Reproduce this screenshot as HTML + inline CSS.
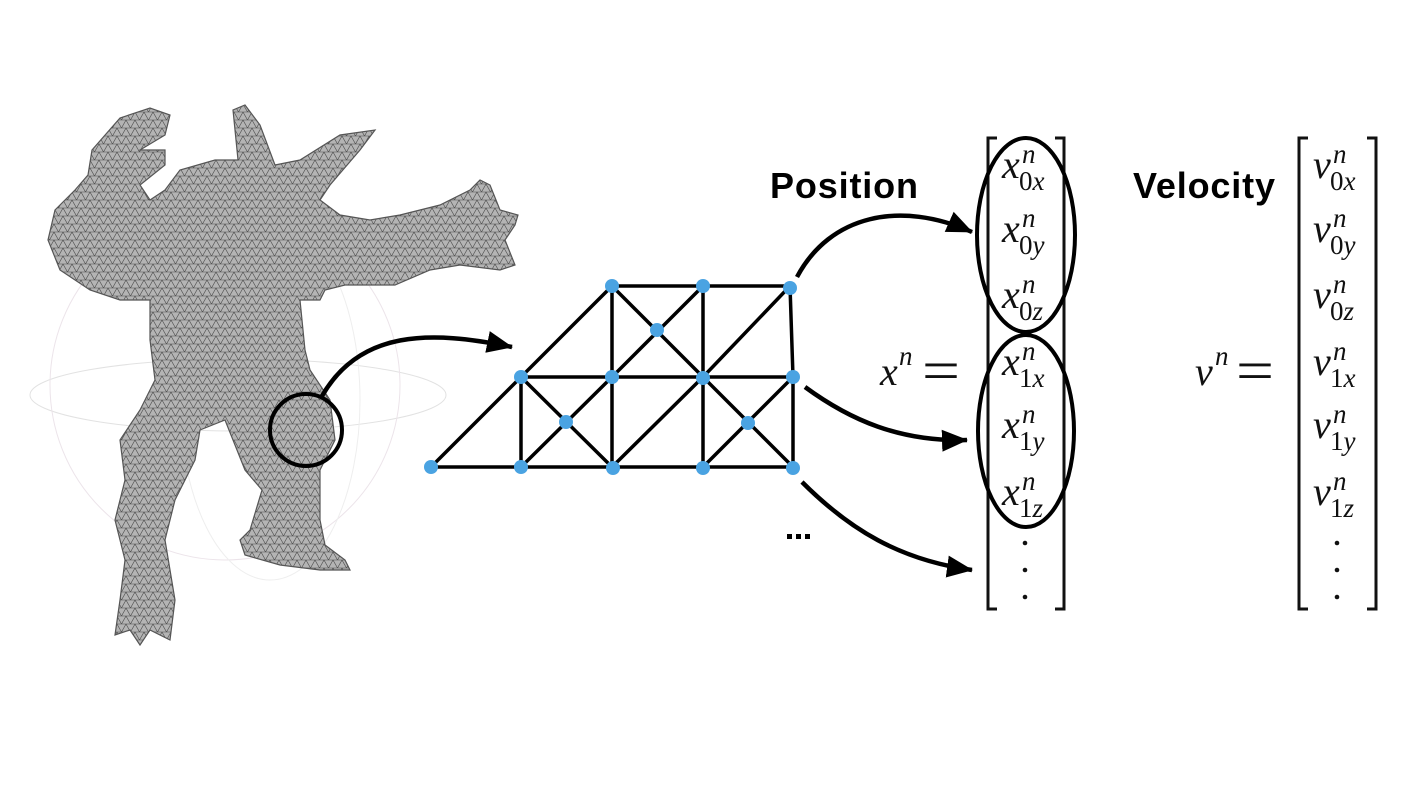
<!DOCTYPE html>
<html><head><meta charset="utf-8"><style>
html,body{margin:0;padding:0;background:#fff;}
svg{display:block;}
.m{font-family:"Liberation Serif",serif;font-style:italic;fill:#111;}
.up{font-family:"Liberation Serif",serif;fill:#111;}
.lbl{font-family:"Liberation Sans",sans-serif;font-weight:bold;font-size:36px;fill:#000;}
</style></head><body>
<svg width="1410" height="808" viewBox="0 0 1410 808">
<defs>
<pattern id="mesh" width="9" height="8" patternUnits="userSpaceOnUse">
<rect width="9" height="8" fill="#b4b4b4"/>
<path d="M0 0 L9 0 L4.5 8 Z M0 8 L9 8" stroke="#4a4a4a" stroke-width="0.6" fill="none"/>
</pattern>
<marker id="ah" markerWidth="28" markerHeight="26" refX="25" refY="13" orient="auto" markerUnits="userSpaceOnUse">
<path d="M0 2 L26 13 L0 24 Z" fill="#000"/>
</marker>
</defs>

<g>
<ellipse cx="238" cy="395" rx="208" ry="36" fill="none" stroke="#e2e2e2" stroke-width="1"/>
<circle cx="225" cy="385" r="175" fill="none" stroke="#ece4ea" stroke-width="1"/>
<ellipse cx="270" cy="400" rx="90" ry="180" fill="none" stroke="#eee" stroke-width="1"/>
<path d="M92 150 L120 118 L150 108 L170 115 L165 135 L140 150 L165 150 L165 165 L140 185 L150 200 L165 190 L180 170 L215 160 L238 160 L233 110 L245 105 L260 125 L275 165 L300 160 L340 135 L375 130 L360 150 L330 185 L320 200 L340 215 L370 220 L400 215 L440 205 L470 190 L480 180 L490 185 L500 210 L518 215 L515 225 L505 240 L515 265 L500 270 L460 265 L430 270 L395 285 L345 285 L325 290 L320 300 L300 300 L305 350 L310 370 L330 400 L335 440 L320 470 L320 520 L325 545 L345 560 L350 570 L320 570 L280 565 L245 555 L240 540 L250 530 L262 490 L245 470 L225 420 L200 430 L195 460 L175 500 L165 540 L170 570 L175 600 L170 640 L150 630 L140 645 L130 630 L115 635 L120 600 L125 560 L115 520 L125 480 L120 440 L140 410 L155 380 L150 340 L150 300 L120 300 L90 290 L60 270 L48 240 L55 210 L75 190 L88 175 Z" fill="url(#mesh)" stroke="#555" stroke-width="1.2"/>
</g>

<circle cx="306" cy="430" r="36" fill="none" stroke="#000" stroke-width="4"/>
<path d="M322 396 C360 330 430 330 512 347" fill="none" stroke="#000" stroke-width="4.5" marker-end="url(#ah)"/>

<g stroke="#000" stroke-width="3.5" fill="none">
<path d="M431 467 L793 467 M521 377 L793 377 M612 286 L790 286"/>
<path d="M431 467 L612 286 M521 377 L521 467 M612 286 L612 467 M703 286 L703 467 M790 286 L793 377 L793 467"/>
<path d="M612 286 L703 377 M703 286 L612 377 M703 377 L790 286"/>
<path d="M521 377 L612 467 M612 377 L521 467 M703 377 L793 467 M793 377 L703 467 M612 467 L703 377"/>
</g>
<g fill="#4aa3e2">
<circle cx="612" cy="286" r="7"/><circle cx="703" cy="286" r="7"/><circle cx="790" cy="288" r="7"/>
<circle cx="521" cy="377" r="7"/><circle cx="612" cy="377" r="7"/><circle cx="703" cy="378" r="7"/><circle cx="793" cy="377" r="7"/>
<circle cx="657" cy="330" r="7"/><circle cx="566" cy="422" r="7"/><circle cx="748" cy="423" r="7"/>
<circle cx="431" cy="467" r="7"/><circle cx="521" cy="467" r="7"/><circle cx="613" cy="468" r="7"/><circle cx="703" cy="468" r="7"/><circle cx="793" cy="468" r="7"/>
</g>
<g fill="#000">
<rect x="787" y="534" width="5" height="5"/><rect x="796" y="534" width="5" height="5"/><rect x="805" y="534" width="5" height="5"/>
</g>

<g stroke="#000" stroke-width="4.5" fill="none">
<path d="M797 277 C830 215 900 200 972 232" marker-end="url(#ah)"/>
<path d="M805 387 C850 420 900 442 967 440" marker-end="url(#ah)"/>
<path d="M802 482 C850 530 900 560 972 570" marker-end="url(#ah)"/>
</g>

<text x="770" y="198" class="lbl" textLength="148">Position</text>
<text x="1133" y="198" class="lbl" textLength="142">Velocity</text>

<g>
<path d="M997 138 L988 138 L988 609 L997 609 M1055 138 L1064 138 L1064 609 L1055 609" fill="none" stroke="#111" stroke-width="3"/>
<text x="880" y="385" class="m" font-size="40">x</text><text x="899" y="365" class="m" font-size="27">n</text><text x="922" y="390" class="up" font-size="58" textLength="38" lengthAdjust="spacingAndGlyphs">=</text>
<g class="m">
<text x="1002" y="178" font-size="40">x</text><text x="1022" y="163" font-size="27">n</text><text x="1019" y="190" font-size="27"><tspan font-style="normal">0</tspan>x</text>
<text x="1002" y="242" font-size="40">x</text><text x="1022" y="227" font-size="27">n</text><text x="1019" y="254" font-size="27"><tspan font-style="normal">0</tspan>y</text>
<text x="1002" y="308" font-size="40">x</text><text x="1022" y="293" font-size="27">n</text><text x="1019" y="320" font-size="27"><tspan font-style="normal">0</tspan>z</text>
<text x="1002" y="375" font-size="40">x</text><text x="1022" y="360" font-size="27">n</text><text x="1019" y="387" font-size="27"><tspan font-style="normal">1</tspan>x</text>
<text x="1002" y="438" font-size="40">x</text><text x="1022" y="423" font-size="27">n</text><text x="1019" y="450" font-size="27"><tspan font-style="normal">1</tspan>y</text>
<text x="1002" y="505" font-size="40">x</text><text x="1022" y="490" font-size="27">n</text><text x="1019" y="517" font-size="27"><tspan font-style="normal">1</tspan>z</text>
</g>
<circle cx="1025" cy="543" r="2.3" fill="#111"/><circle cx="1025" cy="570" r="2.3" fill="#111"/><circle cx="1025" cy="597" r="2.3" fill="#111"/>
<ellipse cx="1026" cy="235" rx="49" ry="97" fill="none" stroke="#000" stroke-width="4"/>
<ellipse cx="1026" cy="431" rx="48" ry="96" fill="none" stroke="#000" stroke-width="4"/>
</g>

<g>
<path d="M1308 138 L1299 138 L1299 609 L1308 609 M1367 138 L1376 138 L1376 609 L1367 609" fill="none" stroke="#111" stroke-width="3"/>
<text x="1195" y="385" class="m" font-size="40">v</text><text x="1215" y="365" class="m" font-size="27">n</text><text x="1236" y="390" class="up" font-size="58" textLength="38" lengthAdjust="spacingAndGlyphs">=</text>
<g class="m">
<text x="1313" y="178" font-size="40">v</text><text x="1333" y="163" font-size="27">n</text><text x="1330" y="190" font-size="27"><tspan font-style="normal">0</tspan>x</text>
<text x="1313" y="242" font-size="40">v</text><text x="1333" y="227" font-size="27">n</text><text x="1330" y="254" font-size="27"><tspan font-style="normal">0</tspan>y</text>
<text x="1313" y="308" font-size="40">v</text><text x="1333" y="293" font-size="27">n</text><text x="1330" y="320" font-size="27"><tspan font-style="normal">0</tspan>z</text>
<text x="1313" y="375" font-size="40">v</text><text x="1333" y="360" font-size="27">n</text><text x="1330" y="387" font-size="27"><tspan font-style="normal">1</tspan>x</text>
<text x="1313" y="438" font-size="40">v</text><text x="1333" y="423" font-size="27">n</text><text x="1330" y="450" font-size="27"><tspan font-style="normal">1</tspan>y</text>
<text x="1313" y="505" font-size="40">v</text><text x="1333" y="490" font-size="27">n</text><text x="1330" y="517" font-size="27"><tspan font-style="normal">1</tspan>z</text>
</g>
<circle cx="1337" cy="543" r="2.3" fill="#111"/><circle cx="1337" cy="570" r="2.3" fill="#111"/><circle cx="1337" cy="597" r="2.3" fill="#111"/>
</g>
</svg>
</body></html>
